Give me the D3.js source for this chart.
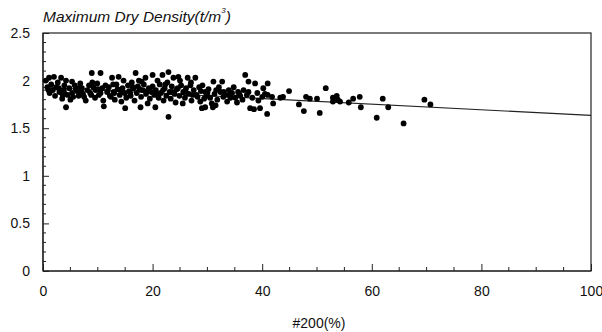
<!DOCTYPE html>
<html>
<head>
<meta charset="utf-8">
<script src="https://cdn.jsdelivr.net/npm/d3@7"></script>
<style>
  html, body { margin: 0; padding: 0; background: #fff; }
  svg { display: block; }
  text { font-family: "Liberation Sans", Arial, sans-serif; fill: #111; }
</style>
</head>
<body>
<svg id="chart" width="602" height="332"></svg>
<script>
// ---- data ----
const xTicks = [0, 20, 40, 60, 80, 100];
const yTicks = [0, 0.5, 1, 1.5, 2, 2.5];
const yTickLabels = ["0", "0.5", "1", "1.5", "2", "2.5"];
const xTitle = "#200(%)";
const yTitle = "Maximum Dry Density(t/m";

// percent passing #200 sieve
const passing200 = [
  0.5,0.8,1.1,1.2,1.5,1.8,2.0,2.2,2.4,2.7,3.0,3.3,3.5,3.8,3.9,4.2,4.2,4.5,4.8,5.0,5.3,5.3,5.5,
  5.8,6.2,6.5,6.8,7.1,7.3,7.5,7.8,8.1,8.4,8.6,8.9,9.2,9.5,9.6,9.9,10.2,10.5,10.5,
  10.8,11.0,11.1,11.4,11.7,12.0,12.2,12.4,12.6,12.9,13.1,13.4,13.6,13.8,14.0,14.3,14.5,14.7,14.9,15.0,15.2,
  15.5,15.7,16.0,16.2,16.5,16.7,16.9,17.1,17.3,17.5,17.8,17.9,18.2,18.4,18.7,18.8,19.1,19.3,19.5,19.8,20.0,20.0,
  20.3,20.5,20.6,20.9,21.1,21.3,21.5,21.8,22.0,22.2,22.5,22.7,22.9,22.9,23.1,23.3,23.5,23.8,24.0,24.2,24.4,24.7,24.9,
  25.2,25.5,25.6,25.9,26.1,26.4,26.6,26.9,27.1,27.5,27.8,28.0,28.2,28.5,28.7,29.0,29.1,29.4,29.6,29.6,29.9,
  30.2,30.5,30.8,31.0,31.1,31.3,31.5,31.8,32.1,32.4,32.7,32.9,33.2,33.6,33.9,34.2,34.5,34.8,
  35.1,35.4,35.6,36.0,36.4,36.9,37.2,37.5,37.5,37.8,38.2,38.5,38.7,39.1,39.3,39.6,40.0,40.2,40.5,
  40.9,41.0,41.0,41.8,42.0,43.3,43.8,44.9,46.7,47.6,48.0,48.7,50.0,50.5,51.6,52.9,52.9,53.6,53.8,54.2,
  55.8,56.6,57.8,58.0,60.9,62.0,63.0,65.8,69.6,70.7,
  // additional points filling the dense band
  1.0,2.9,4.0,6.0,7.0,8.8,10.0,11.8,13.0,14.2,15.9,17.6,19.0,20.8,21.9,23.6,24.6,26.0,27.3,28.8,
  30.0,31.6,33.0,34.0,35.8,36.6,9.0,16.4,18.0,22.3,25.0,27.0,12.8,3.6,6.6
];
// maximum dry density (t/m3)
const dryDensity = [
  2.00,1.93,2.03,1.87,1.96,1.90,2.04,1.84,1.93,1.98,1.88,2.03,1.81,1.90,1.95,2.00,1.72,1.85,1.92,1.80,1.99,1.87,1.83,
  1.95,1.89,1.84,1.97,1.92,1.86,1.83,1.79,1.90,1.95,1.87,2.08,1.93,1.82,1.90,1.97,1.85,2.08,1.87,
  1.92,1.79,1.73,1.95,1.88,1.93,1.84,1.83,2.03,1.88,1.80,1.96,1.91,2.04,1.85,1.78,1.92,2.00,1.87,1.71,1.82,
  1.95,1.89,1.84,1.98,1.92,1.79,2.08,1.87,1.94,2.00,1.72,1.83,1.90,1.96,2.03,1.86,1.76,1.92,1.81,1.88,2.06,1.94,
  1.85,1.72,1.90,2.00,1.82,1.96,1.87,2.06,1.79,1.92,1.84,1.98,2.09,1.62,1.88,1.81,1.94,2.03,1.86,1.77,1.91,2.04,1.84,
  1.95,1.76,1.88,1.82,1.92,2.03,1.86,1.95,1.79,1.90,2.03,1.85,1.83,1.93,1.78,1.71,1.95,1.81,1.88,1.72,1.84,
  1.91,1.82,1.76,1.72,1.99,1.86,1.74,1.80,1.93,1.88,1.99,1.83,1.85,1.78,1.90,1.82,1.87,1.93,
  1.82,1.77,1.88,1.84,1.80,2.06,1.85,1.99,1.88,1.71,1.82,1.70,1.97,1.87,1.79,1.71,1.83,1.92,1.86,
  1.65,1.97,1.85,1.83,1.76,1.82,1.83,1.89,1.75,1.68,1.83,1.81,1.81,1.66,1.92,1.82,1.78,1.84,1.80,1.78,
  1.77,1.81,1.83,1.72,1.61,1.81,1.72,1.55,1.80,1.75,
  1.90,1.92,1.86,1.91,1.88,1.85,1.91,1.89,1.87,1.90,1.87,1.91,1.89,1.86,1.90,1.88,1.92,1.89,1.85,1.89,
  1.87,1.90,1.88,1.85,1.86,1.90,1.98,1.93,1.99,1.96,2.00,1.98,1.96,1.85,1.92
];
// regression line end points
const trendX = [0, 100];
const trendY = [1.93, 1.635];

// ---- drawing ----
const svg = d3.select("#chart");
const m = { left: 43, right: 11, top: 33, bottom: 61 };
const W = 602, H = 332;
const x = d3.scaleLinear().domain([0, 100]).range([m.left, W - m.right]);
const y = d3.scaleLinear().domain([0, 2.5]).range([H - m.bottom, m.top]);

const g = svg.append("g");

// frame (top + right borders)
g.append("rect")
  .attr("x", x(0)).attr("y", y(2.5))
  .attr("width", x(100) - x(0)).attr("height", y(0) - y(2.5))
  .attr("fill", "none").attr("stroke", "#222").attr("stroke-width", 1.2);

// x axis: major ticks + minor ticks, inward
const xAxis = d3.axisBottom(x).tickValues(xTicks).tickSize(-7).tickPadding(15).tickFormat(d3.format("d"));
const gx = g.append("g").attr("transform", `translate(0,${y(0)})`).call(xAxis);
gx.append("g").selectAll("line").data(d3.range(5, 100, 5).filter(v => v % 20 !== 0))
  .join("line").attr("x1", d => x(d)).attr("x2", d => x(d)).attr("y1", 0).attr("y2", -4)
  .attr("stroke", "#222");

// y axis
const yAxis = d3.axisLeft(y).tickValues(yTicks).tickSize(-6).tickPadding(13)
  .tickFormat((d, i) => yTickLabels[i]);
const gy = g.append("g").attr("transform", `translate(${x(0)},0)`).call(yAxis);
gy.append("g").selectAll("line").data(d3.range(1, 25).filter(v => v % 5 !== 0).map(v => v / 10))
  .join("line").attr("x1", 0).attr("x2", 3).attr("y1", d => y(d)).attr("y2", d => y(d))
  .attr("stroke", "#222");

[gx, gy].forEach(a => {
  a.select(".domain").attr("stroke", "#222").attr("stroke-width", 1.2);
  a.selectAll(".tick line").attr("stroke", "#222");
  a.selectAll(".tick text").style("font-size", "14px").style("fill", "#111");
});
gx.select(".domain").attr("d", `M${x(0)},0H${x(100)}`);
gy.select(".domain").attr("d", `M0,${y(0)}V${y(2.5)}`);

// trend line
g.append("path")
  .datum(trendX.map((v, i) => [v, trendY[i]]))
  .attr("d", d3.line().x(d => x(d[0])).y(d => y(d[1])))
  .attr("fill", "none").attr("stroke", "#222").attr("stroke-width", 1.1);

// points
g.append("g").selectAll("circle")
  .data(passing200.map((v, i) => [v, dryDensity[i]]))
  .join("circle")
  .attr("cx", d => x(d[0])).attr("cy", d => y(d[1])).attr("r", 2.9)
  .attr("fill", "#000");

// titles
const t = svg.append("text").attr("x", 43).attr("y", 22)
  .style("font-size", "15.5px").style("font-style", "italic");
t.append("tspan").text(yTitle);
t.append("tspan").attr("dy", -9).style("font-size", "8px").text("3");
t.append("tspan").attr("dy", 9).text(")");

svg.append("text").attr("x", (x(0) + x(100)) / 2 + 2).attr("y", 328)
  .attr("text-anchor", "middle").style("font-size", "14px").text(xTitle);
</script>
</body>
</html>
